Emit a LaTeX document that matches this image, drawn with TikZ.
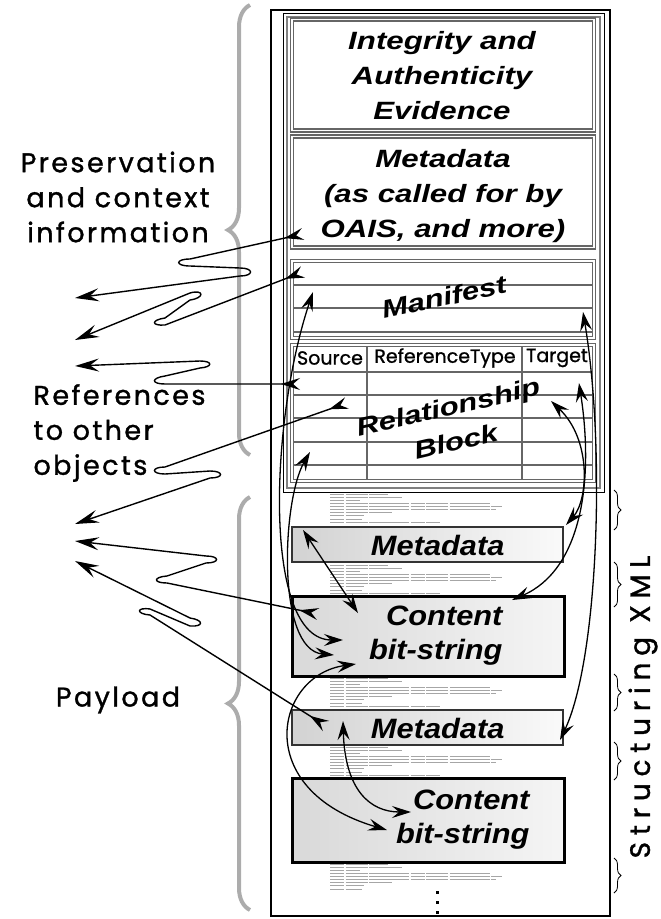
\documentclass[tikz,border=0pt]{standalone}
\usepackage{fontspec}
\usetikzlibrary{arrows.meta, decorations.pathreplacing}
\newfontfamily\boxfont{Liberation Sans}[FakeStretch=1.25]
\newfontfamily\payfont{Liberation Sans}[FakeStretch=1.1]
\newfontfamily\handfont{Poppins}[LetterSpace=9, FakeBold=1.2]
\newfontfamily\structfont{Poppins}[LetterSpace=24, FakeBold=1.2]
\newfontfamily\cellfont{Poppins}[FakeBold=1]
% tiny unreadable XML lines between the payload boxes
\newcommand{\xmlrows}[2]{%
	\foreach \len [count=\i] in {58,72,30,160,172,166,62,34,32,110} {
		\ifnum\i>#2\relax\else
			\draw[xmlline] (330,#1+\i*3.1) -- ++(\len,0);
		\fi
	}}
\tikzset{
	grayblk/.style   ={draw=black!60, line width=1.4pt, double=white, double distance=1.3pt, minimum width=302pt, inner sep=0pt, align=center},
	toptext/.style   ={font=\boxfont\bfseries\itshape\fontsize{25}{35}\selectfont, align=center},
	paytext/.style   ={font=\payfont\bfseries\itshape\fontsize{28}{34}\selectfont, align=right, anchor=east},
	mdblk/.style     ={draw=black!80, line width=1.2pt, left color=gray!35, right color=gray!4, minimum width=271pt, minimum height=35pt, inner sep=0pt},
	cbsblk/.style    ={draw=black, line width=3pt, left color=gray!30, right color=gray!8, minimum width=272pt, inner sep=0pt},
	hand/.style      ={font=\handfont\fontsize{27}{35}\selectfont},
	cell/.style      ={font=\cellfont\fontsize{19}{20}\selectfont, inner sep=0pt},
	rowline/.style   ={draw=black!60, line width=1.4pt},
	xmlline/.style   ={draw=gray!70, line width=0.7pt, dash pattern=on 14pt off 1.5pt on 22pt off 1.5pt on 40pt off 1.5pt},
	bigbrace/.style  ={decorate, decoration={brace, amplitude=22pt, aspect=0.5}, draw=gray!65, line width=4pt},
	smallbrace/.style={decorate, decoration={brace, amplitude=7pt}, draw=black, line width=0.8pt},
	conn/.style      ={line width=1.4pt, {Stealth[length=24pt, width=13pt, inset=9pt]}-{Stealth[length=19pt, width=12pt, inset=7pt, reversed]}},
	link/.style      ={line width=1.3pt, {Stealth[length=19pt, width=12pt, inset=7pt]}-{Stealth[length=19pt, width=12pt, inset=7pt]}},
}
\begin{document}
\begin{tikzpicture}[x=1pt, y=-1pt]
	\useasboundingbox (0,0) rectangle (661,919);
	% outer frame and the top container
	\draw[line width=2.6pt] (271,10) rectangle (610,916);
	\draw[line width=0.8pt] (283,13) rectangle (604,492);
	\draw[draw=gray, line width=2pt] (287,17) rectangle (600,488);

	% preservation part
	\node[grayblk, minimum height=111pt] (integ) at (443,75) {};
	\node[toptext] (integTxt) at (442,76) {Integrity and\\Authenticity\\Evidence};
	\node[grayblk, minimum height=111pt] (mdTop) at (443,192) {};
	\node[toptext] (mdTopTxt) at (443,196) {Metadata\\(as called for by\\OAIS, and more)};
	\node[grayblk, minimum height=77pt] (manif) at (443,299.5) {};
	\foreach \yy in {285,308,332} \draw[rowline] (294,\yy) -- (592,\yy);
	\node[toptext, rotate=12] (manifTxt) at (444,297) {Manifest};
	\node[grayblk, minimum height=136pt] (relblk) at (443,413) {};
	\foreach \yy in {372,395,418,442,465} \draw[rowline] (294,\yy) -- (592,\yy);
	\foreach \xx in {367,522} \draw[rowline] (\xx,347) -- (\xx,479);
	\node[cell] (srcCell) at (330,358) {Source};
	\node[cell] (typeCell) at (445,358) {ReferenceType};
	\node[cell] (tgtCell) at (557,358) {Target};
	\node[toptext, rotate=13] (relTxt) at (452,424) {Relationship\\Block};

	% payload part
	\xmlrows{491}{10}
	\node[mdblk] (mdOne) at (427.5,544.5) {};
	\node[paytext] (mdOneTxt) at (508,545) {Metadata};
	\xmlrows{562}{10}
	\node[cbsblk, minimum height=80pt] (cbsOne) at (428.5,636) {};
	\node[paytext] (cbsOneTxt) at (506,636) {Content\\bit-string};
	\xmlrows{675}{10}
	\node[mdblk] (mdTwo) at (427.5,727.5) {};
	\node[paytext] (mdTwoTxt) at (508,728) {Metadata};
	\xmlrows{744}{10}
	\node[cbsblk, minimum height=84pt] (cbsTwo) at (428.5,820) {};
	\node[paytext] (cbsTwoTxt) at (533,820) {Content\\bit-string};
	\xmlrows{861}{9}
	\foreach \yy in {891,901,911} \fill (435.5,\yy) rectangle ++(3,3);

	% braces and side labels
	\draw[bigbrace] (250,455) -- (250,5);
	\draw[bigbrace] (250,910) -- (250,497);
	\node[hand, align=center] (presTxt) at (118,197) {Preservation\\and context\\information};
	\node[hand, align=left, anchor=west] (refsTxt) at (30,433) {References\\to other\\objects};
	\node[hand] (payTxt) at (118,700) {Payload};
	\foreach \ya/\yb in {490/530,562/607,674/711,742/780,858/893}
		\draw[smallbrace] (614,\ya) -- (614,\yb);
	\node[rotate=90, font=\structfont\fontsize{28}{35}\selectfont] (structTxt) at (643,707) {Structuring XML};

	% end points of the references
	\coordinate (tipA) at (75,298);
	\coordinate (tipB) at (75,340);
	\coordinate (tipC) at (75,366);
	\coordinate (tipD) at (75,524);
	\coordinate (tipE) at (75,541);
	\coordinate (tipF) at (75,561);
	\coordinate (oaisEnd) at (303,234);
	\coordinate (manL) at (303,272);
	\coordinate (relSrc) at (300,384);
	\coordinate (relRow) at (347,403);
	\coordinate (cbsL) at (318,614);
	\coordinate (mdTwoL) at (326,726);
	% end points of the inner links
	\coordinate (manBL) at (313,292);
	\coordinate (cbsA) at (343,640);
	\coordinate (relBL) at (310,452);
	\coordinate (cbsB) at (334,655);
	\coordinate (mdOneL) at (303,530);
	\coordinate (cbsTop) at (358,613);
	\coordinate (relTgtA) at (551,401);
	\coordinate (mdOneR) at (566,525);
	\coordinate (relTgtB) at (579,383);
	\coordinate (cbsR) at (512,600);
	\coordinate (manR) at (583,312);
	\coordinate (mdTwoR) at (560,740);
	\coordinate (cbsBL) at (356,664);
	\coordinate (ctwoA) at (387,830);
	\coordinate (mdTwoB) at (343,721);
	\coordinate (ctwoC) at (411,812);

	% references to other objects, each with its loop
	\draw[conn] (tipA) -- (240,276) .. controls (254,276) and (254,268) .. (240,268)
		-- (190,266) .. controls (175,266) and (175,259) .. (190,259) -- (oaisEnd);
	\draw[conn] (tipB) -- (190,293) .. controls (204,289) and (205,298) .. (190,300)
		-- (165,318) .. controls (151,320) and (151,326) .. (165,325) -- (manL);
	\draw[conn] (tipC) -- (200,361) .. controls (213,361) and (213,367) .. (200,368)
		-- (165,376) .. controls (151,378) and (151,384) .. (165,384) -- (relSrc);
	\draw[conn] (tipD) -- (210,478) .. controls (224,478) and (224,471) .. (210,471)
		-- (165,474) .. controls (151,474) and (151,467) .. (165,467) -- (relRow);
	\draw[conn] (tipE) -- (206,556) .. controls (220,556) and (220,563) .. (206,563)
		-- (167,576) .. controls (153,577) and (153,583) .. (167,583) -- (cbsL);
	\draw[conn] (tipF) -- (190,618) .. controls (204,620) and (204,627) .. (190,626)
		-- (150,609) .. controls (136,607) and (136,614) .. (150,615) -- (mdTwoL);

	% links inside the object
	\draw[link] (manBL) .. controls (270,420) and (262,640) .. (cbsA);
	\draw[link] (relBL) .. controls (282,500) and (276,650) .. (cbsB);
	\draw[link] (mdOneL) -- (cbsTop);
	\draw[link] (relTgtA) .. controls (592,440) and (588,500) .. (mdOneR);
	\draw[link] (relTgtB) .. controls (594,480) and (582,570) .. (cbsR);
	\draw[link] (manR) .. controls (606,450) and (598,660) .. (mdTwoR);
	\draw[link] (cbsBL) .. controls (275,675) and (250,790) .. (ctwoA);
	\draw[link] (mdTwoB) .. controls (345,790) and (370,812) .. (ctwoC);
\end{tikzpicture}
\end{document}
